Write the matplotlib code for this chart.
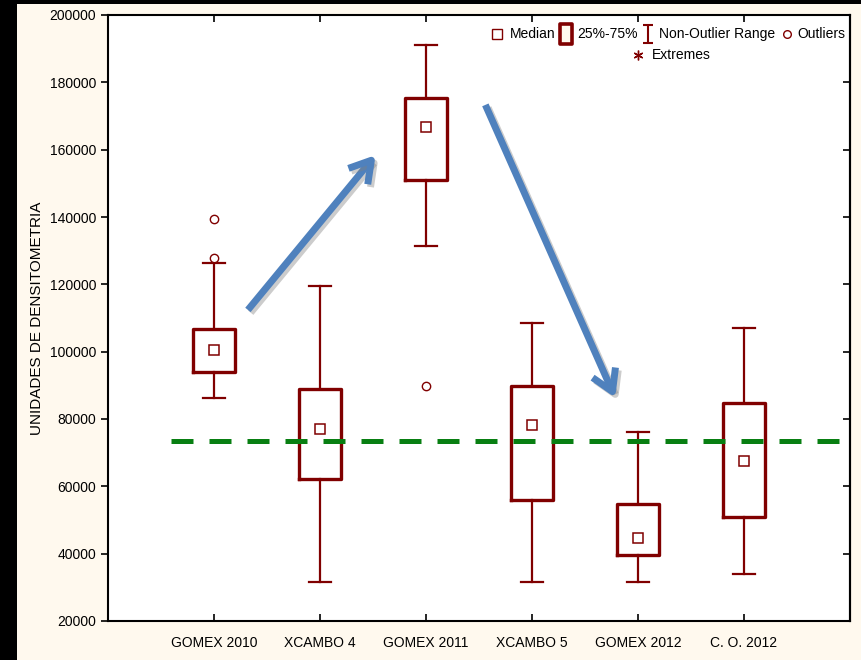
import matplotlib.pyplot as plt
import matplotlib.patheffects as pe
from matplotlib.patches import Rectangle, FancyArrowPatch
from matplotlib.path import Path

plt.rcParams['font.family'] = ['Liberation Sans', 'DejaVu Sans']

# data
groups = ['GOMEX 2010', 'XCAMBO 4', 'GOMEX 2011', 'XCAMBO 5', 'GOMEX 2012', 'C. O. 2012']
medians = [100500, 77000, 166700, 78200, 44700, 67500]
q1 = [93950, 62200, 151000, 55900, 39600, 50900]
q3 = [106700, 88900, 175300, 89800, 54700, 84700]
whis_lo = [86200, 31600, 131400, 31600, 31600, 34000]
whis_hi = [126300, 119500, 191100, 108500, 76100, 107000]
outliers = [[127800, 139400], [], [89800], [], [], []]
ref_level = 73500

# arrows drawn on the chart (x = group position, y = value)
arrow_up = [(1.32, 112400), (2.525, 158400)]
arrow_down = [(3.56, 173300), (4.785, 86300)]

dark_red = '#800000'
cream = '#FFF9EE'

fig = plt.figure(figsize=(8.62, 6.60), dpi=100, facecolor='black')
fig.patches.append(Rectangle((17 / 862, 0), 1, 1 - 4 / 660, transform=fig.transFigure,
                             facecolor=cream, edgecolor='none', zorder=-1))
ax = fig.add_axes([108 / 862, 1 - 621 / 660, 742 / 862, 606 / 660])
ax.set_facecolor('white')

stats = []
for i in range(len(groups)):
    stats.append(dict(med=medians[i], q1=q1[i], q3=q3[i], whislo=whis_lo[i],
                      whishi=whis_hi[i], fliers=outliers[i], label=groups[i]))

pos = list(range(1, len(groups) + 1))
ax.bxp(stats, positions=pos, widths=0.4, showfliers=True,
       boxprops=dict(color=dark_red, linewidth=2.4),
       whiskerprops=dict(color=dark_red, linewidth=1.6),
       capprops=dict(color=dark_red, linewidth=1.6),
       medianprops=dict(linestyle='none'),
       flierprops=dict(marker='o', markersize=6, markerfacecolor='white',
                       markeredgecolor=dark_red, markeredgewidth=1.0),
       capwidths=0.2)
ax.plot(pos, medians, linestyle='none', marker='s', markersize=6.5,
        markerfacecolor='white', markeredgecolor=dark_red, markeredgewidth=1.1, zorder=4)

# reference line
ax.plot([0.59, 6.9], [ref_level, ref_level], color='#087F12', linewidth=3.6,
        linestyle=(0, (4.4, 3.2)), zorder=3)

# blue arrows
for a in (arrow_up, arrow_down):
    arr = FancyArrowPatch(a[0], a[1], arrowstyle='->,head_length=0.75,head_width=0.45',
                          mutation_scale=20, color='#4F81BD', linewidth=5,
                          shrinkA=0, shrinkB=0, zorder=5, capstyle='butt')
    arr.set_path_effects([pe.SimpleLineShadow(offset=(2, -2), shadow_color='gray', alpha=0.4),
                          pe.Normal()])
    ax.add_patch(arr)

ax.set_xlim(0, 7)
ax.set_ylim(20000, 200000)
ax.set_xticks(pos)
ax.set_xticklabels(groups, fontsize=10)
ax.set_yticks(range(20000, 200001, 20000))
ax.tick_params(axis='y', direction='out', length=5, width=1.2, labelsize=10)
ax.tick_params(axis='x', direction='in', length=5, width=1.2, top=True, pad=11)
for side in ax.spines.values():
    side.set_linewidth(1.5)
ax.set_ylabel('UNIDADES DE DENSITOMETRIA', fontsize=11, labelpad=4)

# inward ticks on the right spine
right = ax.secondary_yaxis('right')
right.set_yticks(range(20000, 200001, 20000))
right.tick_params(direction='in', length=5, width=1.2, labelright=False)
right.spines['right'].set_linewidth(1.5)

# legend, drawn by hand in axes coordinates
bracket = Path([(-0.5, 1), (0.5, 1), (0, 1), (0, -1), (-0.5, -1), (0.5, -1)],
               [Path.MOVETO, Path.LINETO, Path.MOVETO, Path.LINETO, Path.MOVETO, Path.LINETO])
tall_box = Path([(-0.6, -1), (0.6, -1), (0.6, 1), (-0.6, 1), (-0.6, -1)],
                [Path.MOVETO, Path.LINETO, Path.LINETO, Path.LINETO, Path.CLOSEPOLY])
row1 = 0.969
row2 = 0.934
tr = ax.transAxes
ax.plot(0.524, row1, marker='s', markersize=6.5, mfc='white', mec=dark_red, mew=1.0, transform=tr)
ax.text(0.541, row1, 'Median', fontsize=10, va='center', transform=tr)
ax.plot(0.617, row1, marker=tall_box, markersize=14, mfc=cream, mec=dark_red, mew=2.6, transform=tr)
ax.text(0.632, row1, '25%-75%', fontsize=10, va='center', transform=tr)
ax.plot(0.728, row1, marker=bracket, markersize=13, mfc='none', mec=dark_red, mew=1.5, transform=tr)
ax.text(0.743, row1, 'Non-Outlier Range', fontsize=10, va='center', transform=tr)
ax.plot(0.915, row1, marker='o', markersize=5.5, mfc='white', mec=dark_red, mew=1.0, transform=tr)
ax.text(0.929, row1, 'Outliers', fontsize=10, va='center', transform=tr)
ax.plot(0.714, row2, marker=(6, 2, 0), markersize=7, mec=dark_red, mew=1.0, transform=tr)
ax.text(0.733, row2, 'Extremes', fontsize=10, va='center', transform=tr)

fig.savefig('out.png', dpi=100, facecolor=fig.get_facecolor())
